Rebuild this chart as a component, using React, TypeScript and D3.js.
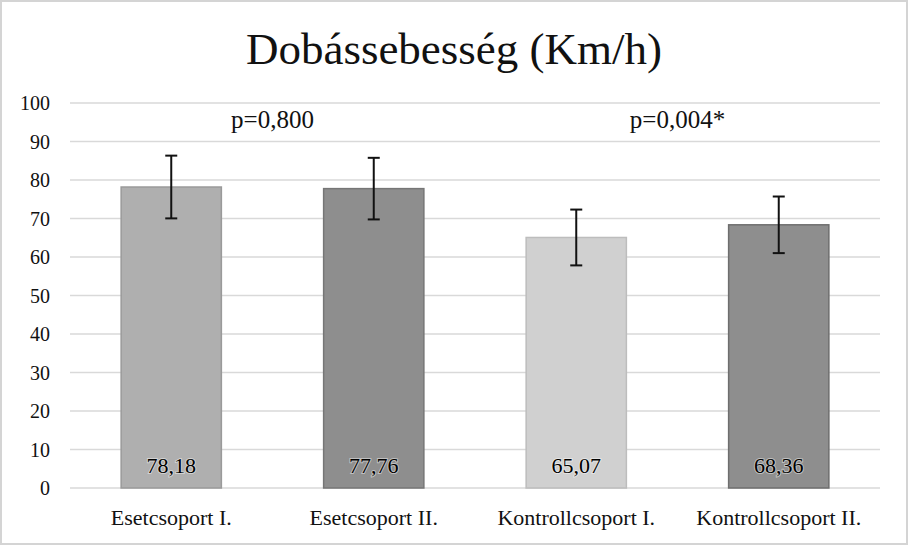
import React from "react";
import * as d3 from "d3";

const categories = ["Esetcsoport I.", "Esetcsoport II.", "Kontrollcsoport I.", "Kontrollcsoport II."];
const means = [78.18, 77.76, 65.07, 68.36];
const errors = [8.15, 8.0, 7.25, 7.35];
const valueLabels = ["78,18", "77,76", "65,07", "68,36"];
const yTicks = [0, 10, 20, 30, 40, 50, 60, 70, 80, 90, 100];
const pLabels = ["p=0,800", "p=0,004*"];
const pGroups = [[0, 1], [2, 3]];
const barFills = ["#afafaf", "#8e8e8e", "#d0d0d0", "#8e8e8e"];
const barStrokes = ["#9a9a9a", "#767676", "#bdbdbd", "#6e6e6e"];

const W = 908;
const H = 545;
const FONT = "Liberation Serif";

export default function App() {
  const x = d3.scaleBand<string>().domain(categories).range([70, 880]).paddingInner(0.505).paddingOuter(0.2525);
  const y = d3.scaleLinear().domain([0, 100]).range([488, 103]);
  const bw = x.bandwidth();
  const cx = (i: number) => (x(categories[i]) as number) + bw / 2;
  const ts = { fontFamily: FONT };

  return (
    <div style={{ position: "fixed", left: 0, top: 0 }}>
      <svg width={W} height={H} style={{ display: "block", background: "#fff" }}>
        <rect x={1} y={1} width={W - 2} height={H - 2} fill="#fff" stroke="#d4d4d4" strokeWidth={2} />
        <text x={W / 2} y={64} textAnchor="middle" style={ts} fontSize={45} fill="#111">
          Dobássebesség (Km/h)
        </text>
        {yTicks.map((t) => (
          <g key={t}>
            <line x1={70} x2={880} y1={y(t)} y2={y(t)} stroke="#d9d9d9" strokeWidth={1.5} />
            <text x={50} y={y(t)} dy="0.35em" textAnchor="end" style={ts} fontSize={20} fill="#111">
              {t}
            </text>
          </g>
        ))}
        {categories.map((c, i) => (
          <rect
            key={c}
            x={x(c)}
            y={y(means[i])}
            width={bw}
            height={y(0) - y(means[i])}
            fill={barFills[i]}
            stroke={barStrokes[i]}
            strokeWidth={1.5}
          />
        ))}
        {categories.map((c, i) => {
          const top = y(means[i] + errors[i]);
          const bot = y(means[i] - errors[i]);
          const xc = cx(i);
          return (
            <g key={c + "e"} stroke="#111" strokeWidth={2}>
              <line x1={xc} x2={xc} y1={top} y2={bot} />
              <line x1={xc - 6} x2={xc + 6} y1={top} y2={top} />
              <line x1={xc - 6} x2={xc + 6} y1={bot} y2={bot} />
            </g>
          );
        })}
        {categories.map((c, i) => (
          <text
            key={c + "v"}
            x={cx(i)}
            y={473}
            textAnchor="middle"
            fontSize={22}
            fill="#000"
            stroke="#fff"
            strokeWidth={2}
            strokeOpacity={0.45}
            style={{ paintOrder: "stroke", fontFamily: FONT }}
          >
            {valueLabels[i]}
          </text>
        ))}
        {categories.map((c, i) => (
          <text key={c + "l"} x={cx(i)} y={525} textAnchor="middle" style={ts} fontSize={22} fill="#111">
            {c}
          </text>
        ))}
        {pLabels.map((p, k) => (
          <text
            key={p}
            x={(cx(pGroups[k][0]) + cx(pGroups[k][1])) / 2}
            y={128}
            textAnchor="middle"
            style={ts}
            fontSize={25}
            fill="#111"
          >
            {p}
          </text>
        ))}
      </svg>
    </div>
  );
}
